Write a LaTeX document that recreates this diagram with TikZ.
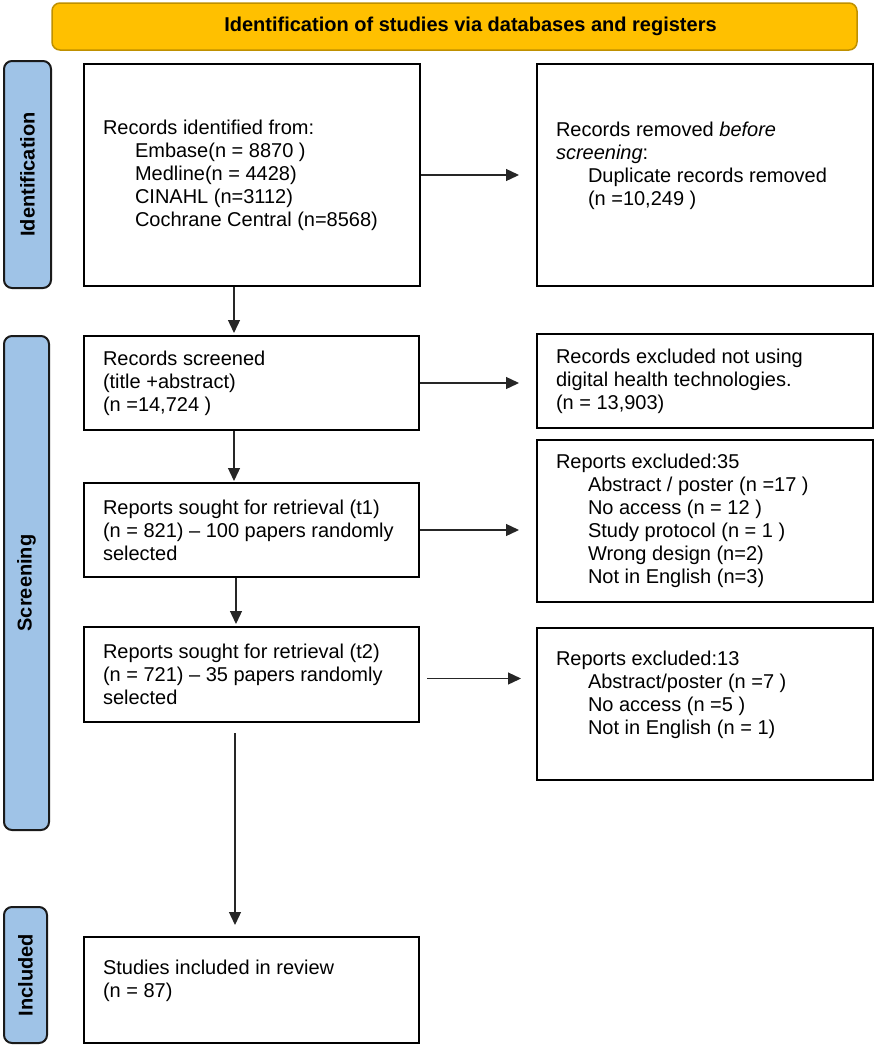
\documentclass[tikz,border=0pt]{standalone}
\usepackage{fontspec}
\setmainfont{Liberation Sans}
\usetikzlibrary{arrows.meta,calc}
\definecolor{hdrfill}{HTML}{FFC000}
\definecolor{hdrdraw}{HTML}{BF9000}
\definecolor{barfill}{HTML}{9FC3E7}
\definecolor{barline}{HTML}{1A1A1A}
\begin{document}
\begin{tikzpicture}[x=1pt,y=-1pt,
  txt/.style={font=\fontsize{20}{23}\selectfont},
  box/.style={txt, draw=black, line width=2pt, fill=white, inner xsep=19pt, inner ysep=0pt, align=flush left, anchor=center},
  header/.style={txt, font=\fontsize{20}{23}\selectfont\bfseries, draw=hdrdraw, line width=1.5pt, fill=hdrfill, rounded corners=8pt, anchor=center},
  sidebar/.style={font=\fontsize{20}{23}\selectfont\bfseries, draw=barline, line width=2pt, fill=barfill, rounded corners=8pt, rotate=90, anchor=center, inner sep=0pt},
  arr/.style={draw=black!85, line width=1.3pt, -{Triangle[length=13pt,width=12pt]}}
]
\useasboundingbox (0,0) rectangle (876,1047);
\newcommand{\ind}{\hspace*{32pt}}

% header
\node[header, minimum width=805pt, minimum height=47pt] (hdr) at (454.5,26.5) {\hspace{32pt}Identification of studies via databases and registers};

% side bars
\node[sidebar, minimum width=227pt, minimum height=47pt] (idbar) at (27.5,174.5) {Identification};
\node[sidebar, minimum width=494pt, minimum height=45pt] (scbar) at (26.5,583) {Screening};
\node[sidebar, minimum width=136pt, minimum height=43pt] (inbar) at (25.5,975) {Included};

% left column
\node[box, minimum width=336pt, text width=298pt, minimum height=222pt] (b1) at (252,175)
  {Records identified from:\\ \ind Embase(n = 8870 )\\ \ind Medline(n = 4428)\\ \ind CINAHL (n=3112)\\ \ind Cochrane Central (n=8568)};
\node[box, minimum width=335pt, text width=297pt, minimum height=94pt] (b3) at (251.5,383)
  {Records screened\\ (title +abstract)\\ (n =14,724 )};
\node[box, minimum width=335pt, text width=297pt, minimum height=94pt] (b4) at (251.5,530)
  {Reports sought for retrieval (t1)\\ \mbox{(n = 821) -- 100 papers randomly}\\ selected};
\node[box, minimum width=335pt, text width=297pt, minimum height=95pt] (b5) at (251.5,674.5)
  {Reports sought for retrieval (t2)\\ \mbox{(n = 721) -- 35 papers randomly}\\ selected};
\node[box, minimum width=335pt, text width=297pt, minimum height=106pt] (b6) at (251.5,990)
  {Studies included in review\\ (n = 87)\\ \mbox{}};

% right column
\node[box, minimum width=336pt, text width=298pt, minimum height=222pt] (b2) at (705,175)
  {Records removed \textit{before}\\ \textit{screening}:\\ \ind Duplicate records removed\\ \ind (n =10,249 )\\ \mbox{}};
\node[box, minimum width=336pt, text width=298pt, minimum height=94pt] (e1) at (705,381)
  {Records excluded not using\\ digital health technologies.\\ (n = 13,903)};
\node[box, minimum width=336pt, text width=298pt, minimum height=162pt] (e2) at (705,521)
  {Reports excluded:35\\ \ind Abstract / poster (n =17 )\\ \ind No access (n = 12 )\\ \ind Study protocol (n = 1 )\\ \ind Wrong design (n=2)\\ \ind Not in English (n=3)};
\node[box, minimum width=336pt, text width=298pt, minimum height=152pt] (e3) at (705,704)
  {Reports excluded:13\\ \ind Abstract/poster (n =7 )\\ \ind No access (n =5 )\\ \ind Not in English (n = 1)\\ \mbox{}};

% column coordinates for vertical arrows
\coordinate (c1) at (234,0);
\coordinate (c2) at (236,0);
\coordinate (c3) at (235,0);

% vertical arrows
\draw[arr, shorten >=2pt] (b1.south -| c1) -- (b3.north -| c1);
\draw[arr, shorten >=1pt] (b3.south -| c1) -- (b4.north -| c1);
\draw[arr, shorten >=2pt] (b4.south -| c2) -- (b5.north -| c2);
\draw[arr, shorten <=10pt, shorten >=11pt] (b5.south -| c3) -- (b6.north -| c3);

% horizontal arrows
\draw[arr, shorten >=17pt] (b1.east) -- (b1.east -| b2.west);
\draw[arr, shorten >=17pt] (b3.east) -- (b3.east -| e1.west);
\draw[arr, shorten >=17pt] (b4.east) -- (b4.east -| e2.west);
\draw[arr, shorten <=7pt, shorten >=15pt] ($(b5.east)+(0,4)$) -- ($(b5.east -| e3.west)+(0,4)$);
\end{tikzpicture}
\end{document}
